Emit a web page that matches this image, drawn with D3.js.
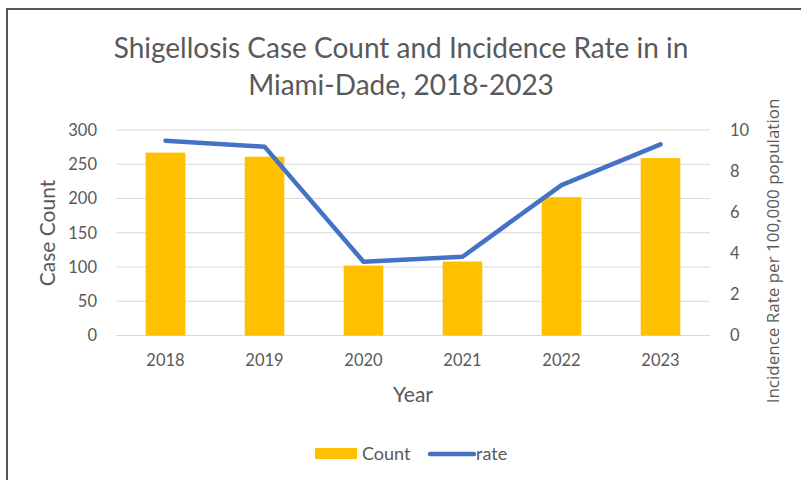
<!DOCTYPE html>
<html>
<head>
<meta charset="utf-8">
<script src="https://cdn.jsdelivr.net/npm/d3@7"></script>
<style>
  html, body { margin: 0; padding: 0; background: #fff; }
  svg { display: block; }
  text { font-family: Lato, "Open Sans", sans-serif; fill: #595959; }
</style>
</head>
<body>
<svg id="chart" width="801" height="480"></svg>
<script>
// Shigellosis counts and incidence rates, Miami-Dade
const years = ["2018", "2019", "2020", "2021", "2022", "2023"];
const counts = [267, 261, 102, 108, 202, 259];
const rates = [9.48, 9.19, 3.59, 3.83, 7.32, 9.30];
const countTicks = [0, 50, 100, 150, 200, 250, 300];
const rateTicks = [0, 2, 4, 6, 8, 10];

const svg = d3.select("#chart");
const W = 801, H = 480;
const plot = { left: 116, right: 710, top: 130, bottom: 335.5 };

// chart frame
svg.append("rect").attr("width", W).attr("height", H).attr("fill", "#fff");
svg.append("path")
  .attr("d", `M7,${H} V9 H${W}`)
  .attr("fill", "none").attr("stroke", "#555").attr("stroke-width", 2);

const x = d3.scaleBand().domain(years).range([plot.left, plot.right]).paddingInner(0.6).paddingOuter(0.3);
const yL = d3.scaleLinear().domain([0, 300]).range([plot.bottom, plot.top]);
const yR = d3.scaleLinear().domain([0, 10]).range([plot.bottom, plot.top]);

// gridlines
svg.append("g").selectAll("line").data(countTicks).join("line")
  .attr("x1", plot.left).attr("x2", plot.right)
  .attr("y1", d => yL(d)).attr("y2", d => yL(d))
  .attr("stroke", "#d9d9d9").attr("stroke-width", 1);

function styleTicks(g) {
  g.select(".domain").remove();
  g.selectAll("text").style("font-size", "16.5px").attr("fill", "#595959")
    .style("font-family", "Lato, sans-serif");
}

// left axis
svg.append("g").attr("transform", `translate(${plot.left},0)`)
  .call(d3.axisLeft(yL).tickValues(countTicks).tickSize(0).tickPadding(19))
  .call(styleTicks);

// right axis
svg.append("g").attr("transform", `translate(${plot.right},0)`)
  .call(d3.axisRight(yR).tickValues(rateTicks).tickSize(0).tickPadding(20))
  .call(styleTicks);

// bottom axis
svg.append("g").attr("transform", `translate(0,${plot.bottom})`)
  .call(d3.axisBottom(x).tickSize(0).tickPadding(19))
  .call(styleTicks);

// bars
svg.append("g").selectAll("rect").data(years).join("rect")
  .attr("x", d => x(d)).attr("width", x.bandwidth())
  .attr("y", (d, i) => yL(counts[i]))
  .attr("height", (d, i) => plot.bottom - yL(counts[i]))
  .attr("fill", "#FFC000");

// rate line
const line = d3.line()
  .x((d, i) => x(years[i]) + x.bandwidth() / 2)
  .y(d => yR(d));
svg.append("path").datum(rates)
  .attr("d", line)
  .attr("fill", "none").attr("stroke", "#4472C4")
  .attr("stroke-width", 4.5).attr("stroke-linecap", "round").attr("stroke-linejoin", "round");

// titles
const title = svg.append("text").attr("text-anchor", "middle").style("font-size", "28px");
title.append("tspan").attr("x", 401).attr("y", 58).text("Shigellosis Case Count and Incidence Rate in in");
title.append("tspan").attr("x", 401).attr("y", 95).text("Miami-Dade, 2018-2023");

svg.append("text")
  .attr("transform", "translate(55,233) rotate(-90)")
  .attr("text-anchor", "middle").style("font-size", "21px")
  .text("Case Count");

svg.append("text")
  .attr("x", 413).attr("y", 402)
  .attr("text-anchor", "middle").style("font-size", "21px")
  .text("Year");

svg.append("text")
  .attr("transform", "translate(779,251) rotate(-90)")
  .attr("text-anchor", "middle")
  .style("font-size", "17px").style("font-family", "'Open Sans', sans-serif")
  .text("Incidence Rate per 100,000 population");

// legend
const lg = svg.append("g");
lg.append("rect").attr("x", 315).attr("y", 448).attr("width", 42).attr("height", 11).attr("fill", "#FFC000");
lg.append("text").attr("x", 362).attr("y", 460).style("font-size", "18px").text("Count");
lg.append("line").attr("x1", 430).attr("x2", 474).attr("y1", 454).attr("y2", 454)
  .attr("stroke", "#4472C4").attr("stroke-width", 4.5).attr("stroke-linecap", "round");
lg.append("text").attr("x", 476).attr("y", 460).style("font-size", "18px").text("rate");
</script>
</body>
</html>
